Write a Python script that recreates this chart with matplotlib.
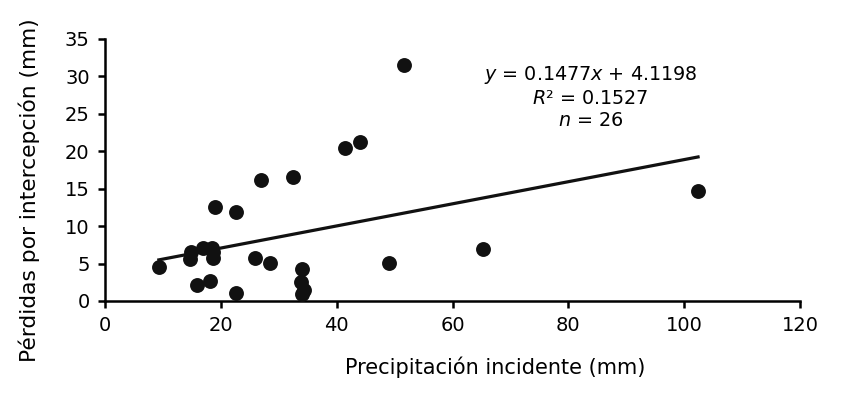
import matplotlib
matplotlib.use("Agg")
import matplotlib.pyplot as plt
import numpy as np

precip = [9.3, 14.8, 14.7, 15.8, 17.0, 18.2, 18.4, 18.6, 18.7, 19.0,
          22.7, 22.7, 25.9, 26.9, 28.5, 32.4, 34.0, 33.8, 34.4, 34.1,
          41.4, 44.0, 49.0, 51.6, 65.2, 102.4]
perdidas = [4.6, 6.5, 5.6, 2.1, 7.1, 2.7, 7.1, 6.5, 5.7, 12.6,
            11.95, 1.1, 5.8, 16.2, 5.1, 16.5, 4.3, 2.6, 1.5, 1.0,
            20.4, 21.3, 5.1, 31.5, 6.95, 14.75]
slope = 0.1477
intercept = 4.1198
r2 = 0.1527
n = 26

plt.rcParams['font.family'] = ['DejaVu Sans']
plt.rcParams['mathtext.fontset'] = 'dejavusans'
fig = plt.figure(figsize=(8.42, 3.94), dpi=100)
ax = fig.add_axes([105/842, 1-301/394, 695/842, 262/394])

ax.scatter(precip, perdidas, s=115, color='#111111', zorder=3, linewidths=0)
xs = np.array([min(precip), max(precip)])
ax.plot(xs, slope*xs + intercept, color='#111111', lw=2.3, zorder=2)

ax.set_xlim(0, 120)
ax.set_ylim(0, 35)
ax.set_xticks(range(0, 121, 20))
ax.set_yticks(range(0, 36, 5))
for s in ['top', 'right']:
    ax.spines[s].set_visible(False)
for s in ['left', 'bottom']:
    ax.spines[s].set_linewidth(1.8)
ax.tick_params(axis='both', direction='out', length=5, width=1.8, labelsize=14, pad=6)

ax.set_xlabel('Precipitación incidente (mm)', fontsize=15)
ax.xaxis.set_label_coords(0.561, -0.213)
ax.set_ylabel('Pérdidas por intercepción (mm)', fontsize=15.7)
ax.yaxis.set_label_coords(-0.0935, 0.424)

txt = (r'$\mathit{y}$ = ' + f'{slope:.4f}' + r'$\mathit{x}$ + ' + f'{intercept:.4f}' + '\n'
       + r'$\mathit{R}$² = ' + f'{r2:.4f}' + '\n' + r'$\mathit{n}$ = ' + f'{n}')
ax.text(83.8, 31.6, txt, ha='center', va='top', fontsize=13.8, linespacing=1.2, color='black')

fig.savefig('out.png', dpi=100)
